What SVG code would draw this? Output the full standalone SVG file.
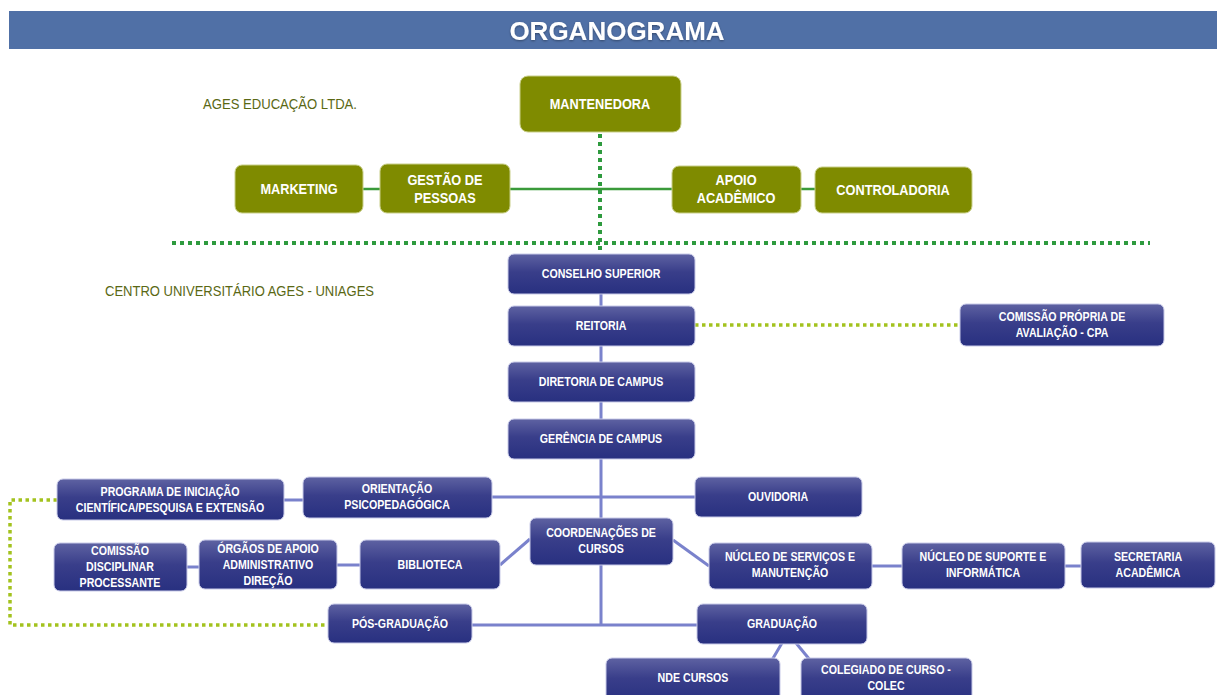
<svg xmlns="http://www.w3.org/2000/svg" width="1217" height="695" viewBox="0 0 1217 695">
<defs>
<linearGradient id="bg" x1="0" y1="0" x2="0" y2="1">
<stop offset="0" stop-color="#5e62a2"/>
<stop offset="0.45" stop-color="#393e8a"/>
<stop offset="1" stop-color="#283080"/>
</linearGradient>
<filter id="sh" x="-10%" y="-10%" width="120%" height="130%">
<feDropShadow dx="0" dy="1" stdDeviation="1" flood-color="#000" flood-opacity="0.35"/>
</filter>
</defs>
<style>
.g rect{fill:#7f8b00;stroke:#c9cf8a;stroke-width:1}
.b rect{fill:url(#bg);stroke:#c8cae8;stroke-width:1}
.g text{font-family:"Liberation Sans",Arial,sans-serif;font-weight:bold;font-size:14.5px;fill:#fff;text-anchor:middle;transform-box:fill-box;transform-origin:center;transform:scaleX(0.88)}
.b text{font-family:"Liberation Sans",Arial,sans-serif;font-weight:bold;font-size:12.5px;fill:#fff;text-anchor:middle;transform-box:fill-box;transform-origin:center;transform:scaleX(0.85)}
.lbl{font-family:"Liberation Sans",Arial,sans-serif;font-size:14px;fill:#5a6814}
.c{stroke:#7a82cc;stroke-width:3;fill:none}
.gd{stroke:#2e9a3e;stroke-width:4;stroke-dasharray:4 4;fill:none}
.yd{stroke:#a3c21e;stroke-width:3.5;stroke-dasharray:3.5 3.5;fill:none}
</style>
<rect width="1217" height="695" fill="#fff"/>
<g id="header">
<rect x="9" y="11" width="1208" height="38" fill="#5070a6"/>
<text x="617" y="40" text-anchor="middle" font-family="Liberation Sans, Arial, sans-serif" font-weight="bold" font-size="26" fill="#fff" filter="url(#sh)">ORGANOGRAMA</text>
</g>
<text class="lbl" x="203" y="109" textLength="154" lengthAdjust="spacingAndGlyphs">AGES EDUCAÇÃO LTDA.</text>
<text class="lbl" x="105" y="296" textLength="269" lengthAdjust="spacingAndGlyphs">CENTRO UNIVERSITÁRIO AGES - UNIAGES</text>
<g id="connectors">
<line x1="363" y1="189" x2="815" y2="189" stroke="#3a9a3a" stroke-width="2.5"/>
<line class="gd" x1="600" y1="134" x2="600" y2="256"/>
<line class="gd" x1="172" y1="243" x2="1150" y2="243"/>
<line class="yd" x1="695" y1="325" x2="960" y2="325"/>
<polyline class="yd" points="57,500 10,500 10,625 328,625"/>
<line class="c" x1="601" y1="294" x2="601" y2="626"/>
<line class="c" x1="492" y1="497" x2="695" y2="497"/>
<line class="c" x1="284" y1="500" x2="303" y2="500"/>
<line class="c" x1="472" y1="625" x2="697" y2="625"/>
<line class="c" x1="500" y1="565" x2="530" y2="539"/>
<line class="c" x1="673" y1="540" x2="709" y2="566"/>
<line class="c" x1="872" y1="566" x2="902" y2="566"/>
<line class="c" x1="1065" y1="566" x2="1081" y2="566"/>
<line class="c" x1="187" y1="567" x2="199" y2="567"/>
<line class="c" x1="337" y1="565" x2="360" y2="565"/>
<line class="c" x1="782" y1="643" x2="772" y2="660"/>
<line class="c" x1="796" y1="643" x2="810" y2="660"/>
</g>
<g id="mantenedora" class="g"><rect x="520" y="76" width="161" height="56" rx="8"/><text x="600" y="109">MANTENEDORA</text></g>
<g id="marketing" class="g"><rect x="235" y="165" width="128" height="48" rx="7"/><text x="299" y="194">MARKETING</text></g>
<g id="gestao" class="g"><rect x="380" y="164" width="130" height="49" rx="7"/><text x="445" y="185">GESTÃO DE</text><text x="445" y="203">PESSOAS</text></g>
<g id="apoio" class="g"><rect x="672" y="166" width="129" height="47" rx="7"/><text x="736" y="185">APOIO</text><text x="736" y="203">ACADÊMICO</text></g>
<g id="controladoria" class="g"><rect x="815" y="167" width="157" height="46" rx="7"/><text x="893" y="195">CONTROLADORIA</text></g>
<g id="conselho" class="b"><rect x="508" y="254" width="187" height="40" rx="6"/><text x="601" y="278">CONSELHO SUPERIOR</text></g>
<g id="reitoria" class="b"><rect x="508" y="306" width="187" height="40" rx="6"/><text x="601" y="330">REITORIA</text></g>
<g id="diretoria" class="b"><rect x="508" y="362" width="187" height="40" rx="6"/><text x="601" y="386">DIRETORIA DE CAMPUS</text></g>
<g id="gerencia" class="b"><rect x="508" y="419" width="187" height="40" rx="6"/><text x="601" y="443">GERÊNCIA DE CAMPUS</text></g>
<g id="cpa" class="b"><rect x="960" y="304" width="204" height="42" rx="6"/><text x="1062" y="321">COMISSÃO PRÓPRIA DE</text><text x="1062" y="337">AVALIAÇÃO  - CPA</text></g>
<g id="programa" class="b"><rect x="57" y="479" width="227" height="41" rx="6"/><text x="170" y="496">PROGRAMA DE INICIAÇÃO</text><text x="170" y="512">CIENTÍFICA/PESQUISA E EXTENSÃO</text></g>
<g id="orientacao" class="b"><rect x="303" y="477" width="189" height="41" rx="6"/><text x="397" y="493">ORIENTAÇÃO</text><text x="397" y="509">PSICOPEDAGÓGICA</text></g>
<g id="ouvidoria" class="b"><rect x="695" y="477" width="167" height="40" rx="6"/><text x="778" y="501">OUVIDORIA</text></g>
<g id="coordenacoes" class="b"><rect x="530" y="518" width="143" height="47" rx="6"/><text x="601" y="537">COORDENAÇÕES DE</text><text x="601" y="553">CURSOS</text></g>
<g id="comissao" class="b"><rect x="54" y="543" width="133" height="48" rx="6"/><text x="120" y="555">COMISSÃO</text><text x="120" y="571">DISCIPLINAR</text><text x="120" y="587">PROCESSANTE</text></g>
<g id="orgaos" class="b"><rect x="199" y="540" width="138" height="49" rx="6"/><text x="268" y="553">ÓRGÃOS DE APOIO</text><text x="268" y="569">ADMINISTRATIVO</text><text x="268" y="585">DIREÇÃO</text></g>
<g id="biblioteca" class="b"><rect x="360" y="540" width="140" height="49" rx="6"/><text x="430" y="569">BIBLIOTECA</text></g>
<g id="nucleo-servicos" class="b"><rect x="709" y="543" width="163" height="46" rx="6"/><text x="790" y="561">NÚCLEO DE SERVIÇOS E</text><text x="790" y="577">MANUTENÇÃO</text></g>
<g id="nucleo-suporte" class="b"><rect x="902" y="543" width="163" height="46" rx="6"/><text x="983" y="561">NÚCLEO DE SUPORTE E</text><text x="983" y="577">INFORMÁTICA</text></g>
<g id="secretaria" class="b"><rect x="1081" y="542" width="134" height="46" rx="6"/><text x="1148" y="561">SECRETARIA</text><text x="1148" y="577">ACADÊMICA</text></g>
<g id="pos" class="b"><rect x="328" y="604" width="144" height="39" rx="6"/><text x="400" y="628">PÓS-GRADUAÇÃO</text></g>
<g id="graduacao" class="b"><rect x="697" y="604" width="170" height="40" rx="6"/><text x="782" y="628">GRADUAÇÃO</text></g>
<g id="nde" class="b"><rect x="606" y="658" width="174" height="45" rx="6"/><text x="693" y="682">NDE CURSOS</text></g>
<g id="colegiado" class="b"><rect x="801" y="658" width="171" height="45" rx="6"/><text x="886" y="674">COLEGIADO DE CURSO -</text><text x="886" y="690">COLEC</text></g>
</svg>
